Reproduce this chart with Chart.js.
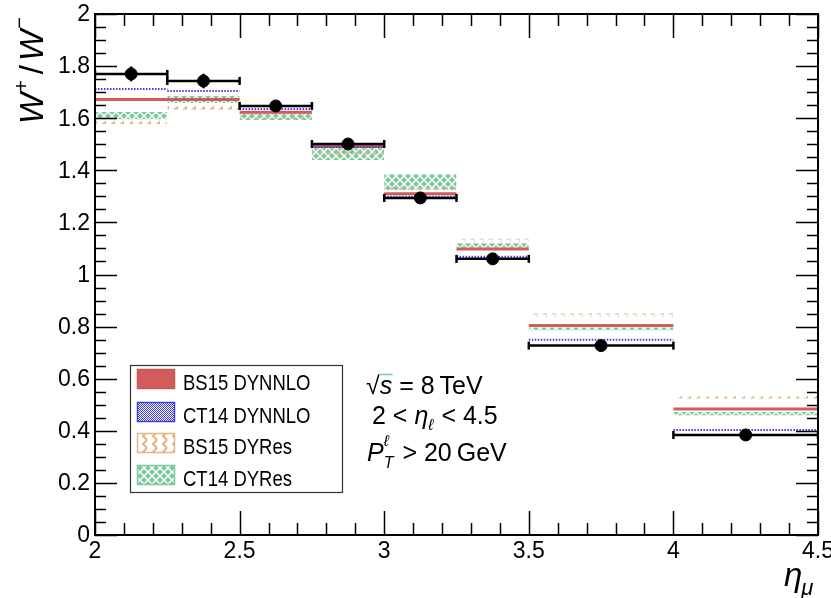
<!DOCTYPE html>
<html>
<head>
<meta charset="utf-8">
<script src="https://cdn.jsdelivr.net/npm/chart.js@4.4.0/dist/chart.umd.min.js"></script>
<style>
html,body{margin:0;padding:0;background:#fff}
#wrap{width:831px;height:598px}
</style>
</head>
<body>
<div id="wrap"><canvas id="c" width="831" height="598"></canvas></div>
<script>
// eta bins and W+/W- ratio per bin
const binLo = [2.0, 2.25, 2.5, 2.75, 3.0, 3.25, 3.5, 4.0];
const binHi = [2.25, 2.5, 2.75, 3.0, 3.25, 3.5, 4.0, 4.5];
const dataVal = [1.770, 1.743, 1.647, 1.501, 1.294, 1.060, 0.727, 0.384];
const dataErr = [0.028, 0.028, 0.010, 0.010, 0.010, 0.010, 0.010, 0.020];
const bs15Nnlo = [1.672, 1.672, 1.623, 1.491, 1.310, 1.098, 0.804, 0.484];
const ct14Nnlo = [1.712, 1.704, 1.635, 1.489, 1.298, 1.068, 0.750, 0.403];
const bs15ResLo = [1.578, 1.630, 1.597, 1.455, 1.322, 1.125, 0.838, 0.524];
const bs15ResHi = [1.595, 1.648, 1.615, 1.480, 1.335, 1.137, 0.850, 0.535];
const ct14ResLo = [1.597, 1.658, 1.593, 1.440, 1.324, 1.103, 0.786, 0.460];
const ct14ResHi = [1.624, 1.685, 1.619, 1.485, 1.385, 1.120, 0.797, 0.472];
// stray zero-level segments visible on the x axis
const zeroBlue = [3.0, 3.5];
const zeroRed = [3.5, 3.75];

const xRange = [2, 4.5], yRange = [0, 2];
const xMajor = 0.5, xMinor = 0.1, yMajor = 0.2, yMinor = 0.05;
const legendLabels = ["BS15 DYNNLO", "CT14 DYNNLO", "BS15 DYRes", "CT14 DYRes"];

const RED = "#d25c5c", BLUE = "#3c3ce6", ORANGE = "#deb887", GREEN = "#7ec8a0";
const FONT = "'Liberation Sans', Arial, sans-serif";

function makePattern(w, h, draw){
  const c = document.createElement("canvas");
  c.width = w; c.height = h;
  const g = c.getContext("2d");
  draw(g);
  return document.getElementById("c").getContext("2d").createPattern(c, "repeat");
}
const greenPat = makePattern(8, 8, g => {
  g.fillStyle = GREEN;
  const dia = (x, y) => { g.beginPath(); g.moveTo(x, y-3); g.lineTo(x+3, y); g.lineTo(x, y+3); g.lineTo(x-3, y); g.closePath(); g.fill(); };
  dia(4, 4); dia(0, 0); dia(8, 0); dia(0, 8); dia(8, 8);
});
const orangePat = makePattern(9, 5, g => {
  g.fillStyle = ORANGE;
  g.beginPath(); g.moveTo(2, 4.5); g.lineTo(7, 4.5); g.lineTo(7, 0.5); g.closePath(); g.fill();
});
const orangeZig = makePattern(10, 8, g => {
  g.strokeStyle = ORANGE; g.lineWidth = 2.2;
  g.beginPath(); g.moveTo(7, 0); g.lineTo(3, 4); g.lineTo(7, 8); g.stroke();
});
const bluePat = makePattern(2, 2, g => {
  g.fillStyle = BLUE; g.fillRect(0, 0, 1, 1); g.fillRect(1, 1, 1, 1);
});

function stepPts(vals){
  const pts = [];
  vals.forEach((v, i) => { pts.push({x: binLo[i], y: v}, {x: binHi[i], y: v}, {x: binHi[i], y: null}); });
  return pts;
}
function bandSets(lo, hi, pat, order){
  return lo.map((l, i) => ({
    data: [{x: binLo[i], y: hi[i]}, {x: binHi[i], y: hi[i]}],
    fill: {value: l}, backgroundColor: pat, borderWidth: 0, pointRadius: 0, order
  }));
}

const hErr = [], vErr = [], pts = [];
dataVal.forEach((v, i) => {
  const c = (binLo[i] + binHi[i]) / 2;
  hErr.push({x: binLo[i], y: v}, {x: binHi[i], y: v}, {x: binHi[i], y: null});
  vErr.push({x: c, y: v - dataErr[i]}, {x: c, y: v + dataErr[i]}, {x: c, y: null});
  pts.push({x: c, y: v});
});

const datasets = [
  ...bandSets(ct14ResLo, ct14ResHi, greenPat, 10),
  ...bandSets(bs15ResLo, bs15ResHi, orangePat, 9),
  {data: stepPts(bs15Nnlo), borderColor: RED, borderWidth: 3, pointRadius: 0, order: 8},
  {data: stepPts(ct14Nnlo), borderColor: BLUE, borderWidth: 2, borderDash: [1.5, 1.5], pointRadius: 0, order: 7},
  {data: zeroBlue.map(x => ({x, y: 0})), borderColor: BLUE, borderWidth: 2, borderDash: [2, 1], pointRadius: 0, order: 7},
  {data: zeroRed.map(x => ({x, y: 0})), borderColor: RED, borderWidth: 1.5, pointRadius: 0, order: 7},
  {data: hErr, borderColor: "#000", borderWidth: 2.5, pointStyle: "line", rotation: 90, pointRadius: 4, pointBorderWidth: 2.5, order: 3},
  {data: vErr, borderColor: "#000", borderWidth: 2.5, pointRadius: 0, order: 2},
  {data: pts, showLine: false, backgroundColor: "#000", borderColor: "#000", pointRadius: 6, order: 1}
];

function txt(ctx, s, x, y, size, opt = {}){
  ctx.font = `${opt.italic ? "italic " : ""}${size}px ${FONT}`;
  ctx.fillText(s, x, y);
  return x + ctx.measureText(s).width;
}
const isMul = (v, step) => Math.abs(v / step - Math.round(v / step)) < 1e-6;

const frame = {
  id: "frame",
  afterDatasetsDraw(chart){
    const {ctx, chartArea: a, scales: {x, y}} = chart;
    ctx.save();
    ctx.strokeStyle = "#000"; ctx.fillStyle = "#000";
    // ticks on all four sides
    ctx.lineWidth = 1.5;
    ctx.beginPath();
    for (let k = 0; xRange[0] + k * xMinor <= xRange[1] + 1e-9; k++){
      const v = xRange[0] + k * xMinor;
      const px = Math.round(x.getPixelForValue(v)) + 0.5, L = isMul(v, xMajor) ? 24 : 12;
      ctx.moveTo(px, a.bottom); ctx.lineTo(px, a.bottom - L);
      ctx.moveTo(px, a.top); ctx.lineTo(px, a.top + L);
    }
    for (let k = 0; yRange[0] + k * yMinor <= yRange[1] + 1e-9; k++){
      const v = yRange[0] + k * yMinor;
      const py = Math.round(y.getPixelForValue(v)) + 0.5, L = isMul(v, yMajor) ? 22 : 11;
      ctx.moveTo(a.left, py); ctx.lineTo(a.left + L, py);
      ctx.moveTo(a.right, py); ctx.lineTo(a.right - L, py);
    }
    ctx.stroke();
    ctx.lineWidth = 2;
    ctx.strokeRect(a.left, a.top, a.right - a.left, a.bottom - a.top);
    // tick labels
    ctx.font = `23px ${FONT}`;
    ctx.textAlign = "center"; ctx.textBaseline = "alphabetic";
    for (let k = 0; xRange[0] + k * xMajor <= xRange[1] + 1e-9; k++){
      const v = xRange[0] + k * xMajor;
      ctx.fillText(String(+v.toFixed(1)), x.getPixelForValue(v), 558);
    }
    ctx.textAlign = "right"; ctx.textBaseline = "middle";
    for (let k = 0; yRange[0] + k * yMajor <= yRange[1] + 1e-9; k++){
      const v = yRange[0] + k * yMajor;
      ctx.fillText(String(+v.toFixed(1)), 90, y.getPixelForValue(v) + 1);
    }
    ctx.textAlign = "left"; ctx.textBaseline = "alphabetic";
    // axis titles
    let xx = txt(ctx, "\u03b7", 784, 586, 33, {italic: true});
    txt(ctx, "\u03bc", xx - 1, 595, 22, {italic: true});
    ctx.save();
    ctx.translate(43, 124); ctx.rotate(-Math.PI / 2);
    let p = txt(ctx, "W", 0, 0, 33, {italic: true});
    p = txt(ctx, "+", p + 1, -15, 20);
    p = txt(ctx, "/", p + 6, 0, 33);
    p = txt(ctx, "W", p + 4, 0, 33, {italic: true});
    txt(ctx, "\u2212", p + 1, -17, 20);
    ctx.restore();
    // legend
    ctx.fillStyle = "#fff";
    ctx.fillRect(130, 365, 212, 127);
    ctx.strokeStyle = "#333"; ctx.lineWidth = 1.2;
    ctx.strokeRect(130.5, 365.5, 212, 127);
    const rows = [369, 402, 433, 465];
    const fills = [RED, bluePat, orangeZig, greenPat];
    const borders = ["#c85858", BLUE, ORANGE, GREEN];
    rows.forEach((ry, i) => {
      ctx.fillStyle = fills[i];
      ctx.fillRect(137, ry, 38, 20);
      ctx.strokeStyle = borders[i]; ctx.lineWidth = 1.5;
      ctx.strokeRect(137.5, ry + 0.5, 37, 19);
      ctx.fillStyle = "#000";
      ctx.save(); ctx.translate(183, ry + 20.5); ctx.scale(1, 1.15);
      txt(ctx, legendLabels[i], 0, 0, 18.5);
      ctx.restore();
    });
    // annotation
    ctx.fillStyle = "#000";
    let q = txt(ctx, "\u221a", 366, 394, 25);
    ctx.lineWidth = 1.5; ctx.beginPath(); ctx.moveTo(q - 1, 374.5); ctx.lineTo(q + 13, 374.5); ctx.stroke();
    q = txt(ctx, "s", q, 394, 25, {italic: true});
    txt(ctx, " = 8\u2009TeV", q, 394, 25);
    q = txt(ctx, "2 < ", 372, 424, 25);
    q = txt(ctx, "\u03b7", q, 424, 25, {italic: true});
    q = txt(ctx, "\u2113", q, 430, 16, {italic: true});
    txt(ctx, " < 4.5", q + 1, 424, 25);
    q = txt(ctx, "P", 367, 461, 25, {italic: true});
    txt(ctx, "\u2113", q, 446, 16, {italic: true});
    q = txt(ctx, "T", q, 468, 16, {italic: true});
    txt(ctx, " > 20\u2009GeV", q + 2, 461, 25);
    ctx.restore();
  }
};

new Chart(document.getElementById("c"), {
  type: "line",
  data: {datasets},
  options: {
    responsive: false, animation: false, events: [],
    layout: {padding: {left: 95, right: 13, top: 14, bottom: 63}},
    plugins: {legend: {display: false}, tooltip: {enabled: false}},
    scales: {
      x: {type: "linear", display: false, min: xRange[0], max: xRange[1]},
      y: {type: "linear", display: false, min: yRange[0], max: yRange[1]}
    }
  },
  plugins: [frame]
});
</script>
</body>
</html>
